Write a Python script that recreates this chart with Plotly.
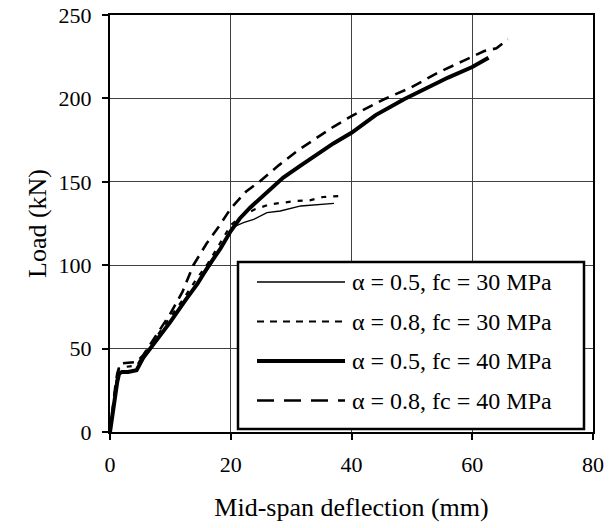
import plotly.graph_objects as go

# ---- data ----
names = ["α = 0.5, fc = 30 MPa", "α = 0.8, fc = 30 MPa",
         "α = 0.5, fc = 40 MPa", "α = 0.8, fc = 40 MPa"]

x_a05_f30 = [0, 0.3, 0.6, 0.9, 1.2, 1.5, 2.5, 3.5, 4.5, 5.5, 7.8, 10, 12.5, 14.5, 16.5,
             18.5, 20.2, 22.1, 23.8, 26, 28.2, 31.6, 34.3, 37.1]
y_a05_f30 = [0, 9, 17, 24, 30, 35, 36, 36, 37, 44, 55, 66, 79, 89, 99,
             111, 122.5, 125.5, 127.5, 131.5, 132.5, 135.5, 136.1, 137.1]

x_a08_f30 = [0, 0.3, 0.6, 0.9, 1.2, 1.5, 2.5, 3.5, 4.5, 5.3, 7.5, 9.7, 12.2, 14.2, 16.2,
             18.2, 20, 22, 24, 26.5, 28.7, 30.9, 33.1, 35.3, 38]
y_a08_f30 = [0, 10, 19, 27, 33, 38, 39, 39.5, 40, 45, 56, 67, 80, 91, 101,
             113, 124, 130, 133.5, 136.5, 137.5, 138.5, 138.9, 140.9, 141.5]

x_a05_f40 = [0, 0.3, 0.6, 0.9, 1.2, 1.5, 2, 3, 4.4, 5.5, 7.8, 10, 12.5, 14.5, 16.3, 18.3,
             20, 21.5, 23.2, 25, 28.7, 31.5, 34.3, 37, 40, 44, 48.7, 52, 56, 60, 62.7]
y_a05_f40 = [0, 8, 16, 24, 30, 35, 36, 36, 37, 44.5, 55, 66, 79, 89, 99.5, 110,
             120.5, 128, 134.5, 140.5, 152.5, 159.5, 166.5, 173, 179.4, 190, 199.5, 205.5, 212.5, 218.8, 224.4]

x_a08_f40 = [0, 0.3, 0.6, 0.9, 1.2, 1.7, 3, 4.4, 5.5, 7.5, 10, 12, 13.8, 16, 18, 20,
             22.5, 24.9, 28, 31, 34.3, 37, 40, 45.4, 49.8, 54.3, 58.7, 62, 64, 65.9]
y_a08_f40 = [0, 10, 19, 28, 35, 41, 41.5, 42, 46, 57, 71, 84, 100, 113, 123, 134,
             144, 150.5, 160, 168.5, 176.4, 183, 189.4, 199.5, 206.4, 215.4, 222.8, 228.4, 230, 235.4]

x_ticks = [0, 20, 40, 60, 80]
y_ticks = [0, 50, 100, 150, 200, 250]

FONT = "Liberation Serif, Times New Roman, serif"

styles = [
    dict(width=1.3, dash="solid"),
    dict(width=2.2, dash="5px,7px"),
    dict(width=4, dash="solid"),
    dict(width=2.6, dash="11px,7px"),
]
legend_dash = ["solid", "7px,6px", "solid", "17px,10px"]

series = [(x_a05_f30, y_a05_f30), (x_a08_f30, y_a08_f30),
          (x_a05_f40, y_a05_f40), (x_a08_f40, y_a08_f40)]

fig = go.Figure()
for (xs, ys), nm, st in zip(series, names, styles):
    fig.add_trace(go.Scatter(x=xs, y=ys, mode="lines", name=nm, showlegend=False,
                             line=dict(color="black", width=st["width"], dash=st["dash"])))

# figure fills the window (body margin removed in post_script)
W, H = 609, 528
L, T = 110, 15
R = W - 593
B = H - 432
pw, ph = W - L - R, H - T - B

def px(x):
    return (x - L) / pw

def py(y):
    return (H - B - y) / ph

shapes = [
    # legend box
    dict(type="rect", xref="paper", yref="paper",
         x0=px(238), x1=px(584), y0=py(429), y1=py(262),
         line=dict(color="black", width=2.5), fillcolor="white", layer="above"),
]
annotations = []
rows = [282, 321.5, 361, 400.5]
for nm, st, dsh, ry in zip(names, styles, legend_dash, rows):
    shapes.append(dict(type="line", xref="paper", yref="paper",
                       x0=px(257), x1=px(345), y0=py(ry), y1=py(ry),
                       line=dict(color="black", width=st["width"], dash=dsh), layer="above"))
    annotations.append(dict(xref="paper", yref="paper", x=px(350), y=py(ry),
                            xanchor="left", yanchor="middle", text=nm, showarrow=False,
                            font=dict(family=FONT, size=24, color="black")))

fig.update_layout(
    width=W, height=H,
    margin=dict(l=L, r=R, t=T, b=B),
    paper_bgcolor="white", plot_bgcolor="white",
    font=dict(family=FONT, size=22, color="black"),
    shapes=shapes, annotations=annotations,
    xaxis=dict(range=[0, 80], tickvals=x_ticks, ticks="outside", ticklen=6, tickwidth=1.5,
               tickcolor="black", showline=True, linecolor="black", linewidth=2, mirror=True,
               showgrid=True, gridcolor="#404040", gridwidth=1, zeroline=False,
               automargin=False, ticklabelstandoff=6, ticklabeloverflow="allow",
               title=dict(text="Mid-span deflection (mm)", standoff=21)),
    yaxis=dict(range=[0, 250], tickvals=y_ticks, ticks="outside", ticklen=6, tickwidth=1.5,
               tickcolor="black", showline=True, linecolor="black", linewidth=2, mirror=True,
               showgrid=True, gridcolor="#404040", gridwidth=1, zeroline=False,
               automargin=False, ticklabelstandoff=6, ticklabeloverflow="allow",
               title=dict(text="Load (kN)", standoff=4)),
)

fig.write_html("out.html",
               config={"displayModeBar": False},
               post_script="document.body.style.margin='0';document.body.style.overflow='hidden';")
